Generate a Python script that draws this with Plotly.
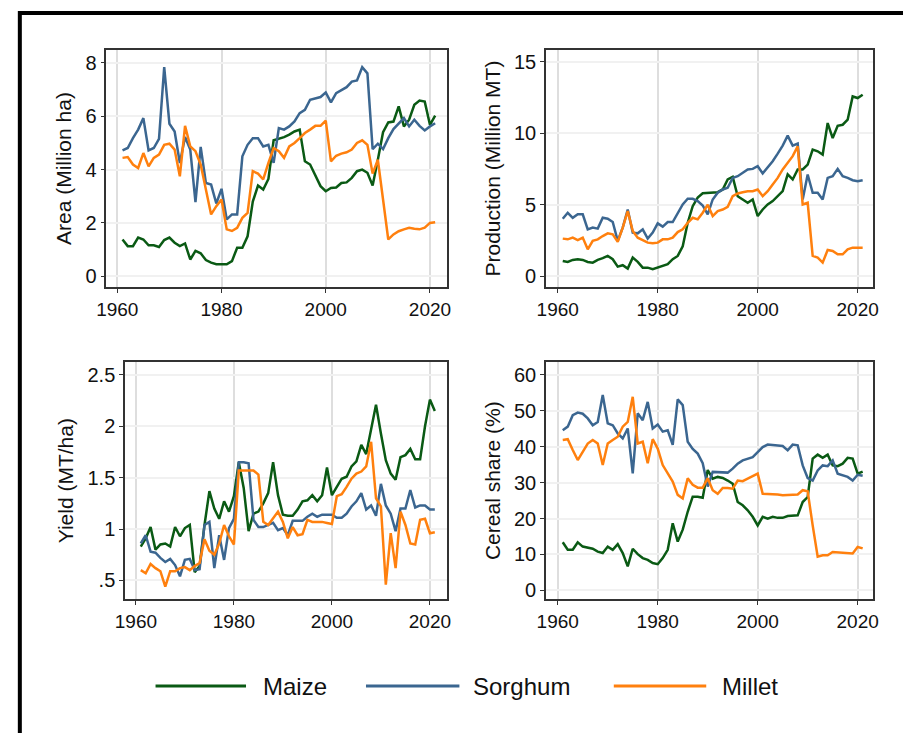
import plotly.graph_objects as go

years = list(range(1961, 2022))

# ---- Area (Million ha)
area_maize = [1.38,1.13,1.13,1.45,1.38,1.16,1.16,1.10,1.36,1.45,1.26,1.13,1.23,0.63,0.95,0.86,0.61,0.51,0.45,0.45,
              0.45,0.57,1.07,1.07,1.50,2.80,3.40,3.25,3.65,5.10,5.15,5.22,5.31,5.43,5.50,4.31,4.19,3.81,3.38,3.19,
              3.31,3.33,3.50,3.52,3.69,3.94,4.00,3.88,3.40,4.37,5.40,5.77,5.80,6.37,5.62,5.87,6.43,6.59,6.55,5.68,6.02]
area_sorghum = [4.72,4.81,5.18,5.50,5.93,4.72,4.81,5.15,7.84,5.72,5.43,4.25,5.22,4.75,2.78,4.85,3.50,3.44,2.73,3.28,
                2.13,2.32,2.32,4.50,4.93,5.18,5.18,4.87,4.93,4.25,5.56,5.50,5.62,5.81,6.12,6.24,6.62,6.68,6.72,6.89,
                6.52,6.87,6.99,7.09,7.30,7.34,7.84,7.61,4.77,4.97,4.77,5.18,5.52,5.74,5.93,5.62,5.87,5.64,5.47,5.62,5.74]
area_millet = [4.44,4.47,4.19,4.06,4.62,4.12,4.44,4.56,4.93,4.97,4.75,3.75,5.64,4.87,4.69,4.19,3.25,2.32,2.63,2.88,
               1.76,1.70,1.82,2.19,2.38,3.94,3.85,3.63,4.25,4.81,4.69,4.44,4.87,5.00,5.18,5.37,5.50,5.64,5.64,5.84,
               4.31,4.52,4.60,4.65,4.75,5.00,5.10,4.93,3.85,4.37,2.88,1.38,1.57,1.69,1.76,1.82,1.78,1.76,1.82,2.00,2.03]

# ---- Production (Million MT)
prod_maize = [1.07,1.00,1.14,1.19,1.14,1.00,0.95,1.14,1.26,1.42,1.19,0.67,0.77,0.53,1.30,1.00,0.60,0.60,0.49,0.60,
              0.72,0.84,1.19,1.42,2.10,3.74,4.90,5.50,5.80,5.84,5.84,5.88,6.07,6.77,6.95,5.60,5.37,5.14,5.37,4.21,
              4.67,5.02,5.26,5.60,5.95,7.12,6.77,7.47,7.47,7.81,8.86,8.74,8.51,10.72,9.67,10.53,10.60,10.95,12.58,12.47,12.70]
prod_sorghum = [4.02,4.44,4.09,4.33,4.33,3.28,3.40,3.33,4.09,4.02,3.79,2.47,3.40,4.67,3.05,3.00,3.28,2.63,3.05,3.70,
                3.47,3.79,3.79,4.44,5.02,5.42,5.42,5.26,4.95,4.33,5.37,5.84,6.07,6.19,6.88,7.00,7.23,7.47,7.51,7.70,
                7.19,7.58,8.05,8.58,9.14,9.84,9.14,9.28,5.37,7.12,5.84,5.84,5.37,6.88,7.00,7.51,7.00,6.88,6.72,6.65,6.72]
prod_millet = [2.63,2.58,2.70,2.53,2.70,1.88,2.47,2.58,2.81,3.00,2.93,2.40,3.40,4.56,3.16,2.70,2.53,2.35,2.30,2.35,
               2.58,2.58,2.70,3.09,3.28,3.74,4.09,3.98,4.44,5.00,4.21,4.56,4.67,4.86,5.60,5.79,5.88,5.95,5.95,6.07,
               5.60,5.95,6.42,6.88,7.47,7.93,8.40,9.09,5.02,5.14,1.42,1.30,0.95,1.84,1.77,1.53,1.53,1.88,2.00,2.00,2.00]

# ---- Yield (MT/ha)
yield_maize = [0.83,0.91,1.02,0.80,0.85,0.86,0.83,1.02,0.93,1.01,1.04,0.58,0.64,1.04,1.37,1.20,1.10,1.27,1.17,1.32,
               1.65,1.40,0.98,1.15,1.17,1.25,1.35,1.65,1.33,1.14,1.13,1.13,1.19,1.27,1.28,1.33,1.27,1.33,1.60,1.33,
               1.41,1.49,1.51,1.61,1.66,1.82,1.73,1.98,2.21,1.93,1.67,1.54,1.48,1.70,1.72,1.78,1.68,1.68,2.00,2.26,2.15]
yield_sorghum = [0.86,0.94,0.78,0.77,0.72,0.68,0.71,0.65,0.54,0.70,0.71,0.60,0.61,1.04,1.07,0.62,0.94,0.70,1.01,1.10,
                 1.65,1.65,1.64,1.09,1.02,1.02,1.04,1.06,0.99,1.01,0.94,1.08,1.08,1.08,1.12,1.15,1.12,1.14,1.14,1.14,
                 1.11,1.11,1.15,1.22,1.27,1.35,1.19,1.23,1.13,1.44,1.23,1.15,0.98,1.20,1.20,1.38,1.21,1.23,1.23,1.19,1.19]
yield_millet = [0.60,0.57,0.66,0.62,0.59,0.44,0.59,0.59,0.62,0.63,0.60,0.64,0.67,0.90,0.79,0.75,0.86,1.04,0.93,0.85,
                1.57,1.57,1.57,1.57,1.53,1.07,1.04,1.10,1.17,1.07,0.91,1.02,0.94,0.95,1.09,1.07,1.07,1.07,1.06,1.05,
                1.32,1.34,1.41,1.49,1.54,1.56,1.61,1.85,1.30,1.22,0.46,0.96,0.62,1.17,1.04,0.86,0.85,1.09,1.10,0.96,0.97]

# ---- Cereal share (%)
share_maize = [13.4,11.3,11.3,13.4,12.2,11.9,11.6,10.8,10.4,12.2,11.3,12.9,10.4,6.7,11.6,10.1,9.0,8.5,7.6,7.3,
               9.0,11.3,18.7,13.6,16.9,21.9,26.1,26.1,25.8,33.5,31.1,31.6,31.3,30.6,29.7,24.6,23.7,22.3,20.5,18.1,
               20.5,20.0,20.5,20.2,20.2,20.7,20.9,20.9,24.6,26.0,36.7,37.8,36.9,37.8,34.8,34.6,35.3,36.9,36.7,32.5,33.1]
share_sorghum = [44.6,45.6,48.8,49.5,49.2,47.9,46.0,46.9,54.4,46.5,46.0,43.7,42.3,45.1,32.6,49.3,47.4,52.5,45.1,46.2,
                 44.2,44.6,40.5,53.2,51.6,41.4,39.4,38.1,35.4,28.9,33.0,33.0,32.8,32.8,33.9,35.3,36.2,36.7,37.1,38.5,
                 39.9,40.6,40.4,40.2,40.2,39.0,40.6,40.4,34.8,31.3,30.6,33.4,34.8,34.6,36.2,32.5,32.0,31.6,30.6,32.2,31.9]
share_millet = [41.9,42.1,39.1,36.3,38.6,40.9,41.9,40.9,34.9,40.9,41.9,42.8,45.6,46.9,53.9,40.9,41.4,35.4,42.1,39.5,
                34.9,32.6,30.3,26.6,25.6,31.2,29.4,28.6,28.6,31.2,27.9,26.9,28.5,28.5,28.3,30.6,30.4,31.1,31.9,32.5,
                26.9,26.9,26.9,26.7,26.5,26.5,26.7,26.7,27.9,27.6,18.1,9.4,9.8,9.8,10.7,10.6,10.3,10.3,10.3,12.1,11.7]

crops = ["Maize", "Sorghum", "Millet"]
colors = {"Maize": "#0a5a14", "Sorghum": "#3b6690", "Millet": "#ff800e"}

panels = [
    ("x", "y", "Area (Million ha)", [area_maize, area_sorghum, area_millet],
     [0, 2, 4, 6, 8], ["0", "2", "4", "6", "8"], [-0.41, 8.49], [1957.9, 2023.2]),
    ("x2", "y2", "Production (Million MT)", [prod_maize, prod_sorghum, prod_millet],
     [0, 5, 10, 15], ["0", "5", "10", "15"], [-0.77, 15.84], [1957.64, 2023.15]),
    ("x3", "y3", "Yield (MT/ha)", [yield_maize, yield_sorghum, yield_millet],
     [0.5, 1, 1.5, 2, 2.5], [".5", "1", "1.5", "2", "2.5"], [0.316, 2.626], [1957.79, 2023.41]),
    ("x4", "y4", "Cereal share (%)", [share_maize, share_sorghum, share_millet],
     [0, 10, 20, 30, 40, 50, 60], ["0", "10", "20", "30", "40", "50", "60"], [-2.5, 63.6], [1957.64, 2023.15]),
]

W, H = 903, 733
def fx(px):
    return px / W
def fy(py):
    return 1 - py / H

domains = [
    ([fx(98), fx(444)], [fy(288), fy(50)]),
    ([fx(545), fx(878)], [fy(288), fy(50)]),
    ([fx(117), fx(444)], [fy(601), fy(363)]),
    ([fx(545), fx(878)], [fy(601), fy(363)]),
]
standoffs = [8, 8, 8, 8]

FONT = "Liberation Sans, Arial, Helvetica, sans-serif"
fig = go.Figure()
layout = dict(
    width=W, height=H, margin=dict(l=0, r=0, t=0, b=0),
    paper_bgcolor="white", plot_bgcolor="white", showlegend=False,
    font=dict(family=FONT, color="#111", size=19),
)

for i, (xa, ya, title, series, tv, tt, yr, xr) in enumerate(panels):
    for crop, vals in zip(crops, series):
        fig.add_trace(go.Scatter(x=years, y=vals, mode="lines", name=crop, xaxis=xa, yaxis=ya,
                                 line=dict(color=colors[crop], width=2.5), showlegend=False))
    xd, yd = domains[i]
    xk = "xaxis" if i == 0 else f"xaxis{i+1}"
    yk = "yaxis" if i == 0 else f"yaxis{i+1}"
    layout[xk] = dict(domain=xd, anchor=ya, range=xr, tickvals=[1960, 1980, 2000, 2020],
                      showline=True, mirror=True, linecolor="#333", linewidth=1.5,
                      ticks="outside", ticklen=4, tickcolor="#333", tickwidth=1.2,
                      showgrid=True, gridcolor="#dedede", gridwidth=1.5, zeroline=False,
                      tickfont=dict(size=19, family=FONT, color="#111"))
    layout[yk] = dict(domain=yd, anchor=xa, range=yr, tickvals=tv, ticktext=tt,
                      showline=True, mirror=True, linecolor="#333", linewidth=1.5,
                      ticks="outside", ticklen=4, tickcolor="#333", tickwidth=1.2,
                      showgrid=True, gridcolor="#f1f1f1", gridwidth=1.5, zeroline=False,
                      tickfont=dict(size=20, family=FONT, color="#111"),
                      title=dict(text=title, font=dict(size=21, family=FONT, color="#111"),
                                 standoff=standoffs[i]))

fig.update_layout(**layout)

# outer black frame
fig.add_shape(type="rect", xref="paper", yref="paper", x0=fx(10), y0=-0.05, x1=1.05, y1=fy(13),
              line=dict(color="black", width=4), fillcolor="rgba(0,0,0,0)")

# legend (manual, mirrors the reference legend placement)
leg_y = fy(688)
legend_items = [("Maize", 148, 240, 255), ("Sorghum", 362, 457, 469), ("Millet", 614, 708, 722)]
for name, lx0, lx1, tx in legend_items:
    fig.add_shape(type="line", xref="paper", yref="paper", x0=fx(lx0), x1=fx(lx1), y0=leg_y, y1=leg_y,
                  line=dict(color=colors[name], width=3))
    fig.add_annotation(xref="paper", yref="paper", x=fx(tx), y=leg_y, text=name, showarrow=False,
                       xanchor="left", yanchor="middle", font=dict(size=24, family=FONT, color="#111"))

fig.write_html("out.html")
